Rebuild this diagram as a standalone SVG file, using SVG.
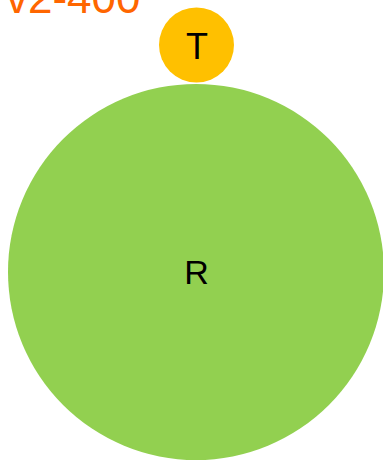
<svg xmlns="http://www.w3.org/2000/svg" width="383" height="460" viewBox="0 0 383 460">
<style>
.lbl{font-family:"Liberation Sans",Arial,sans-serif;fill:#000;text-anchor:middle}
.title{font-family:"Liberation Sans",Arial,sans-serif;fill:#FF6600;font-size:44px}
</style>
<rect width="383" height="460" fill="#fff"/>
<text class="title" x="6" y="13">v2-400</text>
<g id="connectors"></g>
<g id="node-R">
<circle cx="196" cy="272" r="188" fill="#92D050"/>
<text class="lbl" x="196.5" y="283.5" font-size="34">R</text>
</g>
<g id="node-T">
<circle cx="196.5" cy="45" r="37.5" fill="#FFC000"/>
<text class="lbl" x="197" y="58.5" font-size="36">T</text>
</g>
</svg>
